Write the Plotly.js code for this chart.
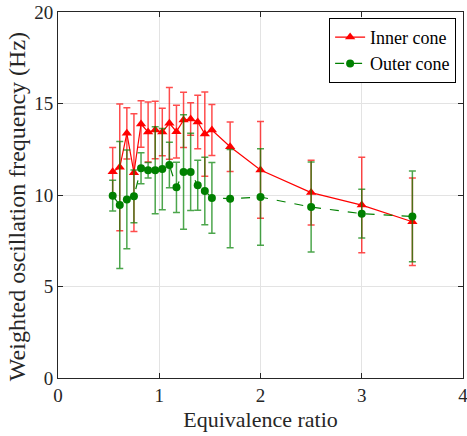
<!DOCTYPE html>
<html>
<head>
<meta charset="utf-8">
<script src="https://cdn.plot.ly/plotly-3.0.1.min.js"></script>
<style>html,body{margin:0;padding:0;background:#fff;}#chart{width:467px;height:436px;}</style>
</head>
<body>
<div id="chart"></div>
<script>
const phi = [0.54, 0.61, 0.68, 0.75, 0.82, 0.89, 0.96, 1.03, 1.10, 1.17, 1.24, 1.31, 1.38, 1.45, 1.52, 1.7, 2.0, 2.5, 3.0, 3.5];
const innerFreq = [11.27, 11.51, 13.37, 11.22, 13.88, 13.44, 13.55, 13.44, 13.92, 13.46, 14.10, 14.15, 13.99, 13.33, 13.55, 12.64, 11.37, 10.13, 9.45, 8.54];
const innerErr = [1.32, 3.46, 1.40, 3.22, 1.27, 1.64, 1.57, 1.30, 1.96, 1.44, 1.51, 0.89, 1.46, 2.30, 1.39, 1.35, 2.64, 1.77, 2.61, 2.39];
const outerFreq = [9.96, 9.45, 9.76, 9.93, 11.46, 11.35, 11.35, 11.42, 11.64, 10.42, 11.26, 11.26, 10.53, 10.22, 9.84, 9.80, 9.89, 9.34, 8.98, 8.83];
const outerErr = [0.84, 3.47, 2.70, 1.44, 0.85, 0.42, 2.38, 2.22, 1.24, 1.37, 3.13, 2.11, 1.37, 1.84, 1.93, 2.68, 2.64, 2.46, 1.33, 2.48];
const xTitle = "Equivalence ratio";
const yTitle = "Weighted oscillation frequency (Hz)";

const serif = "Liberation Serif";
const ink = "#262626";

const traces = [
  {
    x: phi, y: innerFreq, name: "Inner cone", type: "scatter", mode: "lines+markers",
    line: {color: "#ff0000", width: 1.2},
    marker: {symbol: "triangle-up", size: 9, color: "#ff0000"},
    error_y: {type: "data", array: innerErr, visible: true, color: "rgba(255,0,0,0.7)", thickness: 1.5, width: 3.5}
  },
  {
    x: phi, y: outerFreq, name: "Outer cone", type: "scatter", mode: "lines+markers",
    line: {color: "#008000", width: 1.2, dash: "dash"},
    marker: {symbol: "circle", size: 8, color: "#008000"},
    error_y: {type: "data", array: outerErr, visible: true, color: "rgba(0,128,0,0.7)", thickness: 1.5, width: 3.5}
  }
];

const layout = {
  width: 467, height: 436,
  margin: {l: 58, r: 4, t: 12, b: 58},
  paper_bgcolor: "#fff", plot_bgcolor: "#fff",
  font: {family: serif, size: 19, color: ink},
  showlegend: true,
  legend: {
    x: 0.983, y: 0.984, xanchor: "right", yanchor: "top",
    bgcolor: "#fff", bordercolor: "#000", borderwidth: 1,
    font: {family: serif, size: 18, color: "#000"},
    tracegroupgap: 0, itemwidth: 30
  },
  xaxis: {
    range: [0, 4], dtick: 1, tick0: 0,
    showgrid: true, gridcolor: "#e3e3e3", gridwidth: 1,
    zeroline: false, showline: true, linecolor: ink, linewidth: 1, mirror: "ticks",
    ticks: "inside", ticklen: 5, tickcolor: ink, ticklabeloverflow: "allow",
    tickfont: {family: serif, size: 19, color: ink},
    title: {text: xTitle, font: {family: serif, size: 22, color: ink}, standoff: 6}
  },
  yaxis: {
    range: [0, 20], dtick: 5, tick0: 0,
    showgrid: true, gridcolor: "#e3e3e3", gridwidth: 1,
    zeroline: false, showline: true, linecolor: ink, linewidth: 1, mirror: "ticks",
    ticks: "inside", ticklen: 5, tickcolor: ink,
    tickfont: {family: serif, size: 19, color: ink}
  },
  annotations: [{
    text: yTitle, textangle: -90, showarrow: false,
    xref: "paper", yref: "paper", x: -0.101, y: 0.467, xanchor: "center", yanchor: "middle",
    font: {family: serif, size: 24, color: ink}
  }]
};

Plotly.newPlot("chart", traces, layout, {displayModeBar: false, staticPlot: true});
</script>
</body>
</html>
